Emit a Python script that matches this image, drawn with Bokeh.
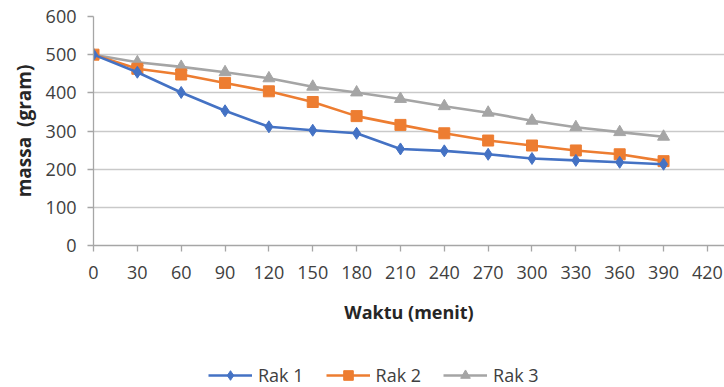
from bokeh.plotting import figure
from bokeh.models import Legend, LegendItem, FixedTicker, Range1d
from bokeh.layouts import column
from bokeh.embed import file_html
from bokeh.resources import INLINE

waktu = [0, 30, 60, 90, 120, 150, 180, 210, 240, 270, 300, 330, 360, 390]
rak1 = [500, 454, 401, 353, 311, 302, 294, 253, 248, 239, 228, 223, 218, 213]
rak2 = [500, 463, 448, 426, 404, 376, 339, 316, 294, 275, 262, 249, 239, 221]
rak3 = [500, 480, 468, 454, 438, 416, 401, 384, 365, 348, 327, 310, 297, 285]
series_names = ["Rak 1", "Rak 2", "Rak 3"]
x_ticks = list(range(0, 421, 30))
y_ticks = list(range(0, 601, 100))

FONT = "Open Sans"
c1, c2, c3 = "#4472C4", "#ED7D31", "#A5A5A5"

p = figure(width=724, height=340, output_backend="svg",
           toolbar_location=None, x_range=Range1d(0, 431.7), y_range=Range1d(0, 600),
           min_border_left=93, min_border_top=16, min_border_right=0, min_border_bottom=95)
p.outline_line_color = None
p.background_fill_color = "white"
p.border_fill_color = "white"

p.xgrid.grid_line_color = None
p.ygrid.grid_line_color = "#c9c9c9"
p.ygrid.grid_line_width = 1.3
p.ygrid.ticker = FixedTicker(ticks=y_ticks)

p.xaxis.ticker = FixedTicker(ticks=x_ticks)
p.yaxis.ticker = FixedTicker(ticks=y_ticks)
for ax in (p.xaxis, p.yaxis):
    ax.axis_line_color = "#a6a6a6"
    ax.axis_line_width = 1.3
    ax.major_tick_line_color = "#a6a6a6"
    ax.major_tick_line_width = 1.3
    ax.major_tick_in = 0
    ax.major_tick_out = 6
    ax.minor_tick_line_color = None
    ax.major_label_text_font = FONT
    ax.major_label_text_font_size = "18px"
    ax.major_label_text_color = "#404040"
    ax.axis_label_text_font = FONT
    ax.axis_label_text_font_style = "bold"
    ax.axis_label_text_font_size = "18px"
    ax.axis_label_text_color = "#262626"

p.xaxis.axis_label = "Waktu (menit)"
p.yaxis.axis_label = "massa\u00a0\u00a0(gram)"
p.yaxis.axis_label_text_font_size = "19px"
p.xaxis.major_label_standoff = 14
p.xaxis.axis_label_standoff = 18
p.yaxis.major_label_standoff = 11
p.yaxis.axis_label_standoff = 6

p.line(waktu, rak3, color=c3, line_width=2.6)
p.scatter(waktu, rak3, marker="triangle", size=12, color=c3)
p.line(waktu, rak2, color=c2, line_width=2.6)
p.scatter(waktu, rak2, marker="square", size=11, color=c2)
p.line(waktu, rak1, color=c1, line_width=2.6)
p.scatter(waktu, rak1, marker="diamond", size=12, color=c1)

# legend strip below the chart (its glyphs lie outside its visible range)
lg = figure(width=724, height=47, output_backend="svg", toolbar_location=None,
            x_range=Range1d(-2, -1), y_range=Range1d(-2, -1),
            x_axis_type=None, y_axis_type=None,
            min_border_left=0, min_border_right=0, min_border_top=0, min_border_bottom=0)
lg.outline_line_color = None
lg.xgrid.grid_line_color = None
lg.ygrid.grid_line_color = None
items = []
for name, vals, col, mk, sz in zip(series_names, [rak1, rak2, rak3], [c1, c2, c3],
                                   ["diamond", "square", "triangle"], [12, 11, 12]):
    r_line = lg.line(waktu, vals, color=col, line_width=2.6)
    r_mk = lg.scatter(waktu, vals, marker=mk, size=sz, color=col)
    items.append(LegendItem(label=name, renderers=[r_line, r_mk]))

legend = Legend(items=items, orientation="horizontal", location=(115, 0))
legend.label_text_font = FONT
legend.label_text_font_size = "18px"
legend.label_text_color = "#404040"
legend.glyph_width = 44
legend.glyph_height = 24
legend.spacing = 22
legend.label_standoff = 6
legend.border_line_color = None
legend.background_fill_alpha = 0
legend.margin = 0
legend.padding = 0
lg.add_layout(legend, "center")

open("out.html", "w").write(file_html(column(p, lg, spacing=0), INLINE))
